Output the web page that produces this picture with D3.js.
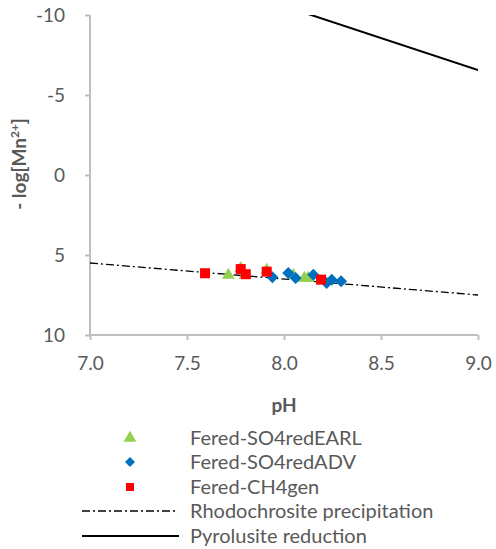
<!DOCTYPE html>
<html>
<head>
<meta charset="utf-8">
<script src="https://cdn.jsdelivr.net/npm/d3@7"></script>
<style>
  body { margin: 0; background: #fff; }
  text { font-family: Lato, 'Open Sans', sans-serif; }
  .tick-label { fill: #595959; font-size: 19px; }
  .axe-title { fill: #595959; font-size: 19px; font-weight: bold; }
  .legend-label { fill: #595959; font-size: 20px; }
</style>
</head>
<body>
<svg class="chart"></svg>
<script>
// data
const earlPH = [7.713, 7.777, 7.799, 7.911, 8.048, 8.105, 8.124]
const earlMn = [6.25, 5.83, 6.25, 5.94, 6.27, 6.44, 6.44]

const advPH = [7.94, 8.022, 8.06, 8.151, 8.22, 8.246, 8.294]
const advMn = [6.39, 6.13, 6.44, 6.23, 6.75, 6.54, 6.64]

const ch4PH = [7.593, 7.777, 7.803, 7.911, 8.191]
const ch4Mn = [6.14, 5.88, 6.2, 6.04, 6.54]

const rhodoPH = [7.0, 9.0]
const rhodoMn = [5.5, 7.5]

const pyroPH = [7.0, 9.0]
const pyroMn = [-14.56, -6.56]

const xTicks = [7.0, 7.5, 8.0, 8.5, 9.0]
const yTicks = [-10, -5, 0, 5, 10]

const legendNames = ['Fered-SO4redEARL', 'Fered-SO4redADV', 'Fered-CH4gen',
    'Rhodochrosite precipitation', 'Pyrolusite reduction']

const width = 496
const height = 549
const plotLeft = 90, plotRight = 478, plotTop = 15, plotBottom = 335
const axisColor = '#bfbfbf'

const svg = d3.select('.chart').attr('width', width).attr('height', height)

const x = d3.scaleLinear().domain([7, 9]).range([plotLeft, plotRight])
const y = d3.scaleLinear().domain([-10, 10]).range([plotTop, plotBottom])

svg.append('defs').append('clipPath').attr('id', 'plot')
    .append('rect')
    .attr('x', plotLeft).attr('y', plotTop)
    .attr('width', plotRight - plotLeft).attr('height', plotBottom - plotTop)

// axes
const yAxis = svg.append('g')
    .attr('transform', `translate(${plotLeft},0)`)
    .call(d3.axisLeft(y).tickValues(yTicks).tickSize(5).tickPadding(20)
        .tickFormat(d => String(d)))
const xAxis = svg.append('g')
    .attr('transform', `translate(0,${plotBottom})`)
    .call(d3.axisBottom(x).tickValues(xTicks).tickSize(5).tickPadding(17)
        .tickFormat(d3.format('.1f')))

;[xAxis, yAxis].forEach(a => {
    a.select('.domain').attr('stroke', axisColor).attr('stroke-width', 2)
    a.selectAll('.tick line').attr('stroke', axisColor).attr('stroke-width', 2)
    a.selectAll('.tick text').attr('class', 'tick-label').attr('font-family', null).attr('font-size', null)
})
xAxis.select('.domain').attr('d', `M${plotLeft},0H${plotRight}`)
yAxis.select('.domain').attr('d', `M0,${plotTop}V${plotBottom}`)

svg.append('text')
    .text('pH')
    .attr('class', 'axe-title')
    .attr('x', (plotLeft + plotRight) / 2)
    .attr('y', 412)
    .attr('text-anchor', 'middle')

const yTitle = svg.append('text')
    .attr('class', 'axe-title')
    .attr('text-anchor', 'middle')
    .attr('transform', `translate(26,${(plotTop + plotBottom) / 2 - 11}) rotate(-90)`)
yTitle.append('tspan').text('- log[Mn')
yTitle.append('tspan').text('2+').attr('dy', -7).attr('font-size', 12)
yTitle.append('tspan').text(']').attr('dy', 7)

// lines
const plot = svg.append('g').attr('clip-path', 'url(#plot)')
const line = d3.line().x(d => x(d[0])).y(d => y(d[1]))

plot.append('path')
    .datum(d3.zip(rhodoPH, rhodoMn))
    .attr('d', line)
    .attr('fill', 'none').attr('stroke', '#000').attr('stroke-width', 1.3)
    .attr('stroke-dasharray', '8,3,2,3')

plot.append('path')
    .datum(d3.zip(pyroPH, pyroMn))
    .attr('d', line)
    .attr('fill', 'none').attr('stroke', '#000').attr('stroke-width', 2)

// markers
const triangle = d3.symbol().type(d3.symbolTriangle).size(70)
const diamond = s => `M0,${-s}L${s},0L0,${s}L${-s},0Z`

svg.append('g').selectAll('path')
    .data(d3.zip(earlPH, earlMn))
    .enter().append('path')
    .attr('d', triangle)
    .attr('transform', d => `translate(${x(d[0])},${y(d[1])})`)
    .attr('fill', '#92d050')

svg.append('g').selectAll('path')
    .data(d3.zip(advPH, advMn))
    .enter().append('path')
    .attr('d', diamond(6))
    .attr('transform', d => `translate(${x(d[0])},${y(d[1])})`)
    .attr('fill', '#0070c0')

svg.append('g').selectAll('rect')
    .data(d3.zip(ch4PH, ch4Mn))
    .enter().append('rect')
    .attr('x', d => x(d[0]) - 5).attr('y', d => y(d[1]) - 5)
    .attr('width', 10).attr('height', 10)
    .attr('fill', '#ff0000')

// legend
const legendY = [438, 462, 487, 511, 536]
const legend = svg.append('g')
const item = legend.selectAll('g')
    .data(legendNames)
    .enter().append('g')
    .attr('transform', (d, i) => `translate(0,${legendY[i]})`)

item.append('text')
    .text(d => d)
    .attr('class', 'legend-label')
    .attr('x', 190)
    .attr('dy', 7)

item.filter((d, i) => i === 0).append('path')
    .attr('d', triangle).attr('transform', 'translate(130,0)').attr('fill', '#92d050')
item.filter((d, i) => i === 1).append('path')
    .attr('d', diamond(5)).attr('transform', 'translate(130,0)').attr('fill', '#0070c0')
item.filter((d, i) => i === 2).append('rect')
    .attr('x', 126).attr('y', -4).attr('width', 8).attr('height', 8).attr('fill', '#ff0000')
item.filter((d, i) => i === 3).append('line')
    .attr('x1', 82).attr('x2', 177)
    .attr('stroke', '#000').attr('stroke-width', 1.3).attr('stroke-dasharray', '8,3,2,3')
item.filter((d, i) => i === 4).append('line')
    .attr('x1', 82).attr('x2', 179)
    .attr('stroke', '#000').attr('stroke-width', 2)
</script>
</body>
</html>
